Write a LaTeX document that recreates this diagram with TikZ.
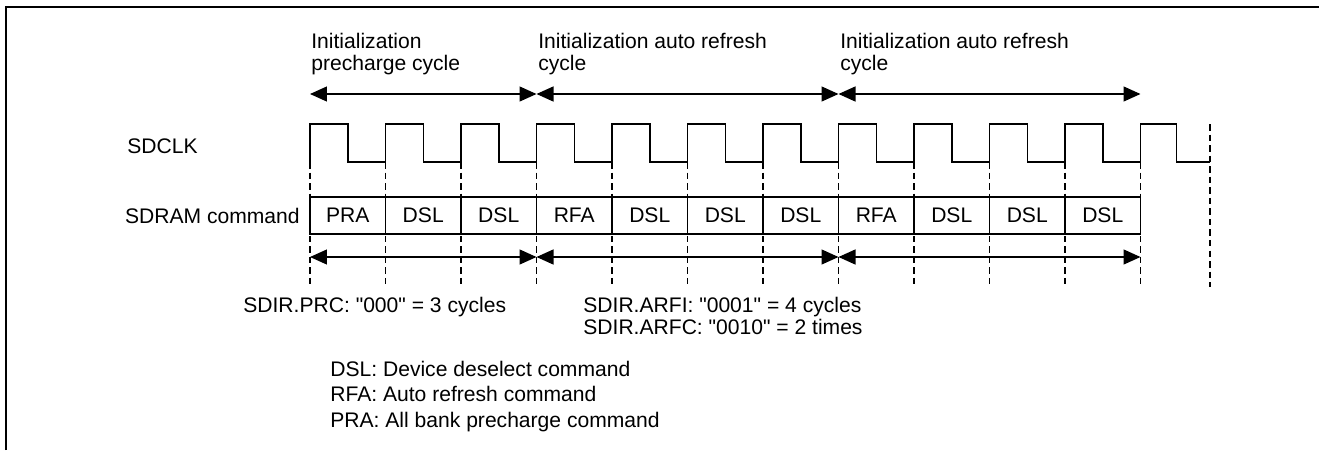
\documentclass[tikz,border=0pt]{standalone}
\usepackage{fontspec}
\setmainfont{Liberation Sans}
\usetikzlibrary{arrows.meta}

\begin{document}
\begin{tikzpicture}[x=0.02cm,y=-0.02cm,
    txt/.style={font=\fontsize{12}{12.5}\selectfont,inner sep=0pt},
    cell/.style={draw,line width=0.75pt,minimum width=1.51cm,minimum height=0.74cm,inner sep=0pt,font=\fontsize{12}{12.5}\selectfont},
    clk/.style={line width=0.75pt},
    tick/.style={line width=0.6pt,dash pattern=on 3.7pt off 2.3pt},
    span/.style={line width=0.75pt,{Triangle[length=0.34cm,width=0.3cm]}-{Triangle[length=0.34cm,width=0.3cm]}},
    frame/.style={line width=1.15pt}]
    \useasboundingbox(0,0)rectangle(1319,450);
    \draw[frame](6,450)--(6,7)--(1319,7);
    \foreach \i in {0,...,11}{
        \coordinate(e\i)at({310+75.5*\i},162);
        \coordinate(t\i)at({310+75.5*\i},94);
        \coordinate(b\i)at({310+75.5*\i},257);
    }
    \coordinate(eend)at(1210,124);
    \foreach \i in {0,...,11}\draw[tick](e\i)--++(0,125);
    \draw[tick](eend)--++(0,163);
    \draw[clk](e0)foreach \i in {0,...,10}{--++(0,-38)--++(38,0)--++(0,38)--++(37.5,0)}
        --++(0,-38)--++(36,0)--++(0,38)--(eend|-e0);
    \node[txt,anchor=base west](sdclk)at(127,153){SDCLK};
    \node[txt,anchor=base east](cmd)at(300,223){SDRAM command};
    \foreach \c [count=\i from 0] in {PRA,DSL,DSL,RFA,DSL,DSL,DSL,RFA,DSL,DSL,DSL}
        \node[cell](c\i)at({347.75+75.5*\i},215.5){\c};
    \node[txt,align=left,anchor=north west](hdpre)at(311,32.6){Initialization\\precharge cycle};
    \node[txt,align=left,anchor=north west](hdarfa)at(538,32.6){Initialization auto refresh\\cycle};
    \node[txt,align=left,anchor=north west](hdarfb)at(840,32.6){Initialization auto refresh\\cycle};
    \draw[span](t0)--(t3);
    \draw[span](t3)--(t7);
    \draw[span](t7)--(t11);
    \draw[span](b0)--(b3);
    \draw[span](b3)--(b7);
    \draw[span](b7)--(b11);
    \node[txt,anchor=base west](prc)at(243,312){SDIR.PRC: \textquotedbl000\textquotedbl{} = 3 cycles};
    \node[txt,align=left,anchor=north west](arf)at(583,296.6){SDIR.ARFI: \textquotedbl0001\textquotedbl{} = 4 cycles\\SDIR.ARFC: \textquotedbl0010\textquotedbl{} = 2 times};
    \node[txt,font=\fontsize{12}{14.5}\selectfont,align=left,anchor=north west](legend)at(330,360.6){DSL: Device deselect command\\RFA: Auto refresh command\\PRA: All bank precharge command};
\end{tikzpicture}
\end{document}
